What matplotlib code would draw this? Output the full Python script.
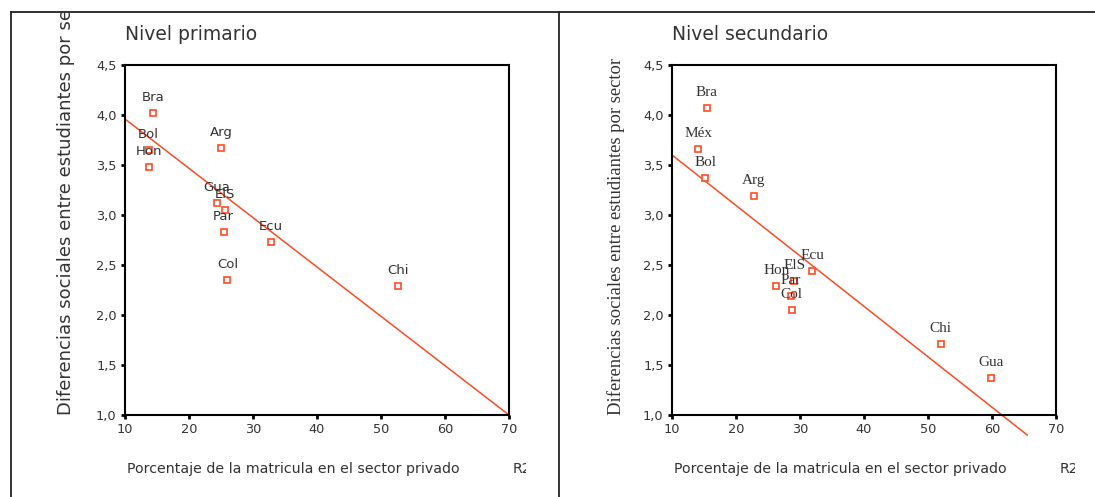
import matplotlib
matplotlib.use('Agg')
import matplotlib.pyplot as plt
from matplotlib.transforms import Bbox, TransformedBbox
from matplotlib.ticker import FuncFormatter, MultipleLocator

# Nivel primario
prim_paises = ['Bra', 'Bol', 'Hon', 'Arg', 'Gua', 'ElS', 'Par', 'Ecu', 'Col', 'Chi']
prim_x = [14.4, 13.7, 13.7, 25.0, 24.3, 25.6, 25.4, 32.8, 26.0, 52.7]
prim_y = [4.02, 3.65, 3.48, 3.67, 3.12, 3.05, 2.83, 2.73, 2.35, 2.29]
prim_fit_x = [10, 70]
prim_fit_y = [3.96, 1.00]

# Nivel secundario
sec_paises = ['Bra', 'Méx', 'Bol', 'Arg', 'Hon', 'ElS', 'Par', 'Ecu', 'Col', 'Chi', 'Gua']
sec_x = [15.4, 14.1, 15.2, 22.8, 26.3, 29.1, 28.6, 31.9, 28.7, 52.0, 59.9]
sec_y = [4.07, 3.66, 3.37, 3.19, 2.29, 2.34, 2.19, 2.44, 2.05, 1.71, 1.37]
sec_fit_x = [10, 65.5]
sec_fit_y = [3.60, 0.80]

titulos = ['Nivel primario', 'Nivel secundario']
ylabel = 'Diferencias sociales entre estudiantes por sector'
xlabel = 'Porcentaje de la matricula en el sector privado'

W, H = 1095, 497
ROJO = '#ff4a24'
GRIS = '#333333'

fig = plt.figure(figsize=(W / 100, H / 100), dpi=100)


def fx(px):
    return px / W


def fy(py):
    return 1 - py / H


def clip(x0, y0, x1, y1):
    # caja en pixeles (origen arriba a la izquierda)
    return TransformedBbox(Bbox([[fx(x0), fy(y1)], [fx(x1), fy(y0)]]), fig.transFigure)


# marco del documento
fig.add_artist(plt.Line2D([fx(11), fx(11)], [fy(12), 0], color='#222222', lw=1.3))
fig.add_artist(plt.Line2D([fx(11), 1], [fy(12), fy(12)], color='#222222', lw=1.3))
fig.add_artist(plt.Line2D([fx(559), fx(559)], [fy(12), 0], color='#222222', lw=1.3))

paneles = [
    dict(left=125, x=prim_x, y=prim_y, n=prim_paises, fx_=prim_fit_x, fy_=prim_fit_y,
         fam='DejaVu Sans', lsize=9.5, ylx=66, ysize=13, clipx=(12, 526), r2x=513),
    dict(left=672, x=sec_x, y=sec_y, n=sec_paises, fx_=sec_fit_x, fy_=sec_fit_y,
         fam='Liberation Serif', lsize=11, ylx=616, ysize=13.4, clipx=(560, 1075), r2x=1060),
]

for i, p in enumerate(paneles):
    ax = fig.add_axes([fx(p['left']), fy(415), 384 / W, 350 / H])
    ax.set_xlim(10, 70)
    ax.set_ylim(1.0, 4.5)
    ax.xaxis.set_major_locator(MultipleLocator(10))
    ax.yaxis.set_major_locator(MultipleLocator(0.5))
    ax.yaxis.set_major_formatter(FuncFormatter(lambda v, pos: f'{v:.1f}'.replace('.', ',')))
    for s in ax.spines.values():
        s.set_linewidth(1.5)
    ax.tick_params(direction='out', length=3, width=2, labelsize=9.3, colors='black',
                   labelcolor=GRIS, pad=3)

    ax.plot(p['fx_'], p['fy_'], color=ROJO, lw=1.1, clip_on=False, zorder=2)
    ax.plot(p['x'], p['y'], ls='none', marker='s', ms=4.5, mfc='white', mec=ROJO,
            mew=1.2, zorder=3)
    for xv, yv, nom in zip(p['x'], p['y'], p['n']):
        ax.annotate(nom, (xv, yv), xytext=(0, 11), textcoords='offset points',
                    ha='center', va='center', fontsize=p['lsize'], family=p['fam'],
                    color=GRIS, zorder=4)

    cb = clip(p['clipx'][0], 13, p['clipx'][1], 497)
    fig.text(fx(p['left']), fy(35), titulos[i], fontsize=13.5, color=GRIS,
             ha='left', va='center')
    t = fig.text(fx(p['ylx']), fy(415), ylabel, rotation=90, rotation_mode='anchor',
                 ha='left', va='center', fontsize=p['ysize'], family=p['fam'], color=GRIS)
    t.set_clip_box(cb)
    t.set_clip_on(True)
    fig.text(fx(p['left'] + 2), fy(469), xlabel, fontsize=10.2, color=GRIS,
             ha='left', va='center')
    t = fig.text(fx(p['r2x']), fy(469), 'R2', fontsize=10.2, color=GRIS,
                 ha='left', va='center')
    t.set_clip_box(cb)
    t.set_clip_on(True)

fig.savefig('out.png', dpi=100)
